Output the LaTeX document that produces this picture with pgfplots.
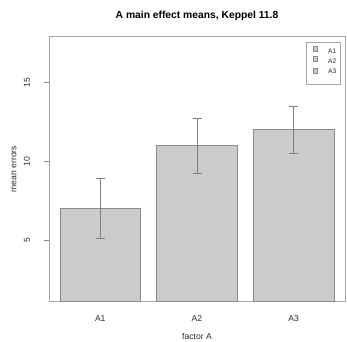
\documentclass[border=0pt]{standalone}
\usepackage{fontspec}
\setmainfont{Liberation Sans}
\usepackage{pgfplots}
\pgfplotsset{compat=1.18}
\definecolor{barfill}{HTML}{CBCBCB}
\definecolor{bardraw}{HTML}{8C8C8C}
\definecolor{errcol}{HTML}{7F7F7F}
\definecolor{boxcol}{HTML}{A6A6A6}
\definecolor{tickcol}{HTML}{8A8A8A}
\definecolor{txt}{HTML}{2A2A2A}
\begin{document}
\begin{tikzpicture}
\useasboundingbox (0,0) rectangle (347pt,341pt);
\begin{axis}[
  at={(49pt,39.3pt)}, anchor=south west,
  scale only axis, width=296pt, height=265pt,
  xmin=0.064, xmax=3.736, ymin=1.08, ymax=17.92,
  /pgf/number format/assume math mode=true,
  axis line style={draw=boxcol, line width=0.7pt},
  xtick={0.7,1.9,3.1}, xticklabels={A1,A2,A3},
  x tick style={draw=none},
  ytick={5,10,15}, ytick pos=left,
  y tick style={draw=tickcol, line width=0.7pt},
  tick align=outside, major tick length=5.5pt,
  tick label style={font=\fontsize{8.6}{10}\selectfont, text=txt},
  every x tick label/.append style={anchor=center, yshift=-11.7pt},
  every y tick label/.append style={anchor=center, xshift=-16.5pt, rotate=90},
  xticklabel shift=0pt, yticklabel shift=0pt,
  every axis x label/.style={at={(axis description cs:0.5,0)}, anchor=center, yshift=-35pt, font=\fontsize{8.6}{10}\selectfont, text=txt},
  every axis y label/.style={at={(axis description cs:0,0.5)}, anchor=center, xshift=-35pt, rotate=90, font=\fontsize{8.6}{10}\selectfont, text=txt},
  every axis title/.style={at={(axis description cs:0.5,1)}, anchor=center, yshift=20.5pt, font=\bfseries\fontsize{10.3}{12}\selectfont, text=black},
  title={A main effect means, Keppel 11.8},
  xlabel={factor A}, ylabel={mean errors},
  legend style={at={(axis description cs:0.9855,0.9811)}, anchor=north east,
    draw=boxcol, line width=0.6pt, fill=white,
    font=\fontsize{6.6}{7.5}\selectfont, text=txt,
    inner xsep=4.2pt, inner ysep=4.2pt, row sep=0pt,
    nodes={inner sep=0pt, text height=7.2pt, text depth=2.6pt},
    /tikz/every even column/.append style={column sep=0pt}},
  legend image code/.code={\path[draw=none, fill=none] (0pt,-0.2pt) rectangle (17.5pt,4.6pt); \draw[#1, line width=0.5pt] (2.3pt,-0.1pt) rectangle (7.1pt,4.7pt);},
]
\addplot[ybar, bar width=1, bar shift=0pt, fill=barfill, draw=bardraw, line width=0.8pt, forget plot,
  error bars/.cd, y dir=both, y explicit,
  error bar style={draw=errcol, line width=0.9pt},
  error mark options={rotate=90, draw=errcol, line width=0.9pt, mark size=4.5pt}]
  coordinates {(0.7,7) +- (0,1.9) (1.9,11) +- (0,1.75) (3.1,12) +- (0,1.5)};
\addlegendimage{fill=barfill, draw=bardraw}
\addlegendentry{A1}
\addlegendimage{fill=barfill, draw=bardraw}
\addlegendentry{A2}
\addlegendimage{fill=barfill, draw=bardraw}
\addlegendentry[text depth=7pt]{A3}
\end{axis}
\end{tikzpicture}
\end{document}
